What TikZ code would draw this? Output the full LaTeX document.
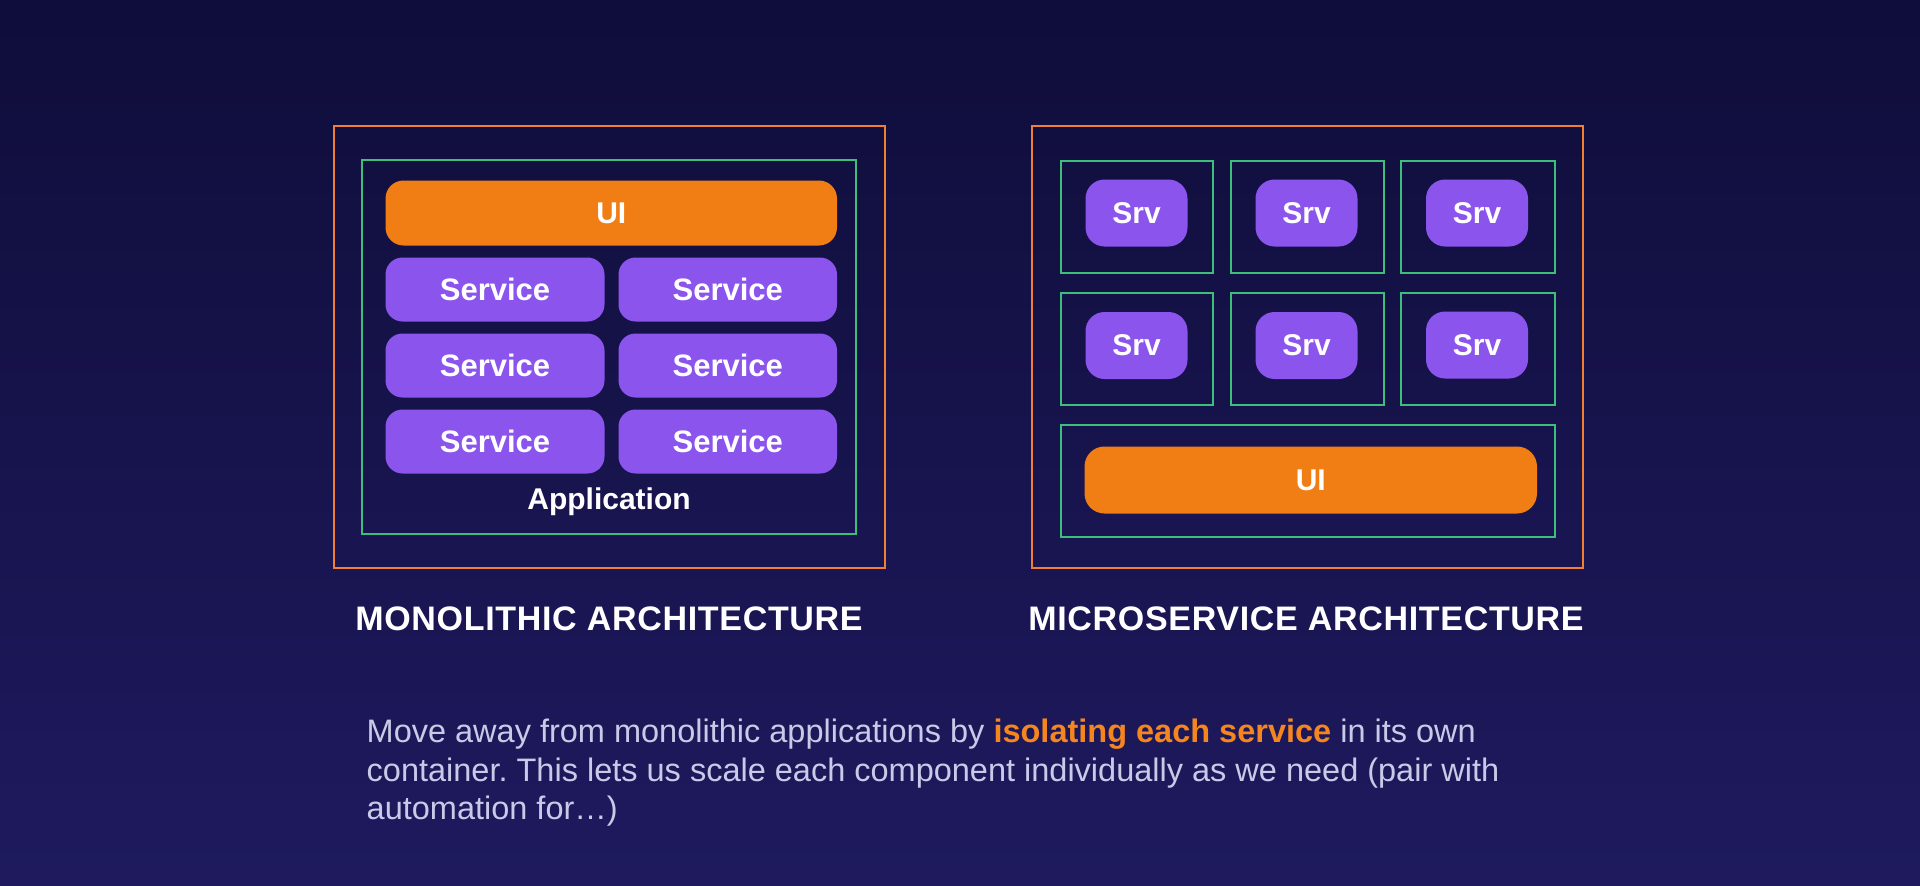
\documentclass[tikz,border=0pt]{standalone}
\usepackage{fontspec}
\setmainfont{Liberation Sans}
\newfontfamily\titlefont[LetterSpace=2]{Liberation Sans}
\frenchspacing
\definecolor{bgtop}{RGB}{15,13,58}
\definecolor{bgbot}{RGB}{31,26,95}
\definecolor{orline}{RGB}{240,128,48}
\definecolor{grline}{RGB}{61,190,122}
\definecolor{uiorange}{RGB}{240,126,20}
\definecolor{purp}{RGB}{139,84,237}
\definecolor{paratext}{RGB}{200,202,232}
\definecolor{hilite}{RGB}{245,133,31}
\tikzset{
  outerbox/.style={draw=orline, line width=2pt, inner sep=0pt, outer sep=0pt},
  cellbox/.style={draw=grline, line width=2pt, inner sep=0pt, outer sep=0pt},
  uibar/.style={fill=uiorange, rounded corners=18pt, inner sep=0pt, text=white,
    font=\bfseries\fontsize{30}{36}\selectfont},
  svcbox/.style={fill=purp, rounded corners=17pt, inner sep=0pt, text=white,
    minimum height=64pt, font=\bfseries\fontsize{31}{37}\selectfont},
  srvbox/.style={fill=purp, rounded corners=19pt, inner sep=0pt, text=white,
    minimum width=102pt, minimum height=67pt, font=\bfseries\fontsize{30}{36}\selectfont},
  archtitle/.style={text=white, inner sep=0pt, anchor=base,
    font=\titlefont\bfseries\fontsize{34}{40}\selectfont},
  paraline/.style={text=paratext, inner sep=0pt, anchor=base west,
    font=\fontsize{32.5}{38}\selectfont},
}
\begin{document}
\begin{tikzpicture}[x=1pt,y=-1pt]
\useasboundingbox (0,0) rectangle (1920,886);
\shade[top color=bgtop, bottom color=bgbot] (0,0) rectangle (1920,886);

% ---------- Monolithic ----------
\node[outerbox, minimum width=551.5pt, minimum height=442pt] (monoouter) at (609.25,347) {};
\node[cellbox, minimum width=494pt, minimum height=374pt] (monoapp) at (609,347) {};
\node[uibar, minimum width=451.5pt, minimum height=65pt] (monoui) at (611.25,213) {UI};
\node[svcbox, minimum width=219pt] (s11) at (495,289.5) {Service};
\node[svcbox, minimum width=218.5pt] (s12) at (727.75,289.5) {Service};
\node[svcbox, minimum width=219pt] (s21) at (495,365.5) {Service};
\node[svcbox, minimum width=218.5pt] (s22) at (727.75,365.5) {Service};
\node[svcbox, minimum width=219pt] (s31) at (495,441.5) {Service};
\node[svcbox, minimum width=218.5pt] (s32) at (727.75,441.5) {Service};
\node[text=white, inner sep=0pt, font=\bfseries\fontsize{30}{36}\selectfont] (applabel) at (609,502) {Application};
\node[archtitle] (monotitle) at (609,630.5) {MONOLITHIC ARCHITECTURE};

% ---------- Microservice ----------
\node[outerbox, minimum width=551pt, minimum height=442pt] (microouter) at (1307.5,347) {};
\node[cellbox, minimum width=152.5pt, minimum height=112pt] (c11) at (1136.75,216.5) {};
\node[cellbox, minimum width=152.5pt, minimum height=112pt] (c12) at (1307.25,216.5) {};
\node[cellbox, minimum width=153.5pt, minimum height=112pt] (c13) at (1477.75,216.5) {};
\node[cellbox, minimum width=152.5pt, minimum height=112.5pt] (c21) at (1136.75,348.75) {};
\node[cellbox, minimum width=152.5pt, minimum height=112.5pt] (c22) at (1307.25,348.75) {};
\node[cellbox, minimum width=153.5pt, minimum height=112.5pt] (c23) at (1477.75,348.75) {};
\node[cellbox, minimum width=494.5pt, minimum height=112pt] (c3) at (1307.75,480.5) {};
\node[srvbox] (v11) at (1136.5,213) {Srv};
\node[srvbox] (v12) at (1306.5,213) {Srv};
\node[srvbox] (v13) at (1477,213) {Srv};
\node[srvbox] (v21) at (1136.5,345.5) {Srv};
\node[srvbox] (v22) at (1306.5,345.5) {Srv};
\node[srvbox] (v23) at (1477,345) {Srv};
\node[uibar, rounded corners=20pt, minimum width=452.5pt, minimum height=67pt] (microui) at (1310.75,480) {UI};
\node[archtitle] (microtitle) at (1306,630.5) {MICROSERVICE ARCHITECTURE};

% ---------- Paragraph ----------
\node[paraline] (p1) at (366.5,742.3) {Move away from monolithic applications by \textcolor{hilite}{\bfseries isolating each service} in its own};
\node[paraline] (p2) at (366.5,781) {container. This lets us scale each component individually as we need (pair with};
\node[paraline] (p3) at (366.5,819.5) {automation for…)};
\end{tikzpicture}
\end{document}
